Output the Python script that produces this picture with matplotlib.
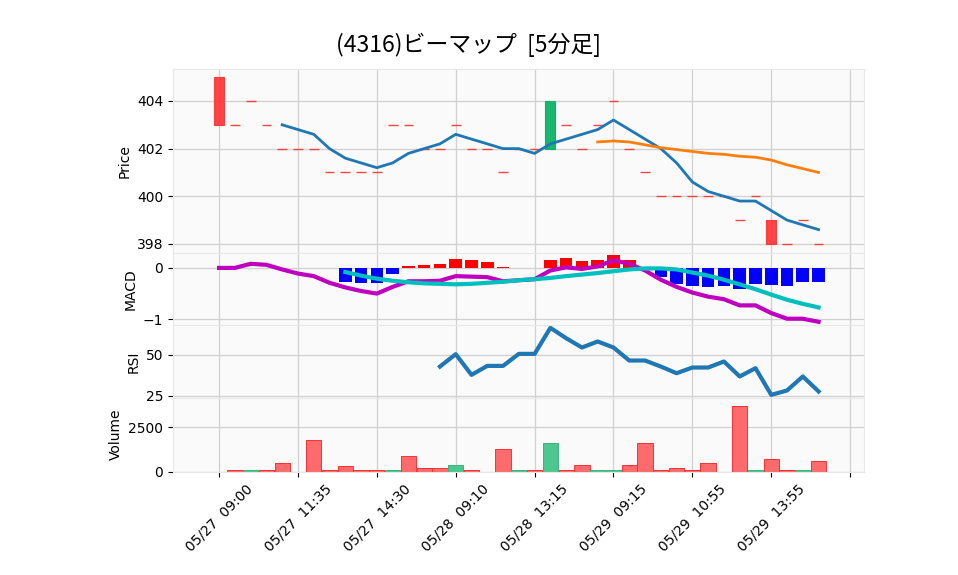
import numpy as np
import matplotlib
matplotlib.use("Agg")
import matplotlib.pyplot as plt
from matplotlib.patches import Rectangle

plt.rcParams['font.family'] = ['DejaVu Sans']

title = "(4316)ビーマップ  [5分足]"
tick_labels = ["05/27  09:00", "05/27  11:35", "05/27  14:30", "05/28  09:10",
               "05/28  13:15", "05/29  09:15", "05/29  10:55", "05/29  13:55", ""]

nan = np.nan
# price bars (5 min)
opens = [405, 403, 404, 403, 402, 402, 402, 401, 401, 401,
         401, 403, 403, 402, 402, 403, 402, 402, 401, 402,
         402, 402, 403, 402, 403, 404, 402, 401, 400, 400,
         400, 400, 400, 399, 400, 399, 398, 399, 398]
closes = [403, 403, 404, 403, 402, 402, 402, 401, 401, 401,
          401, 403, 403, 402, 402, 403, 402, 402, 401, 402,
          402, 404, 403, 402, 403, 404, 402, 401, 400, 400,
          400, 400, 400, 399, 400, 398, 398, 399, 398]
volume = [0, 100, 100, 100, 500, 0, 1800, 100, 300, 100,
          100, 100, 900, 200, 200, 400, 100, 0, 1300, 100,
          100, 1600, 100, 400, 100, 100, 400, 1600, 100, 200,
          100, 500, 0, 3700, 100, 700, 100, 100, 600]

ma5 = [nan, nan, nan, nan, 403.0, 402.8, 402.6, 402.0, 401.6, 401.4,
       401.2, 401.4, 401.8, 402.0, 402.2, 402.6, 402.4, 402.2, 402.0, 402.0,
       401.8, 402.2, 402.4, 402.6, 402.8, 403.2, 402.8, 402.4, 402.0, 401.4,
       400.6, 400.2, 400.0, 399.8, 399.8, 399.4, 399.0, 398.8, 398.6]
ma25 = [nan] * 24 + [402.28, 402.32, 402.28, 402.16, 402.04, 401.96, 401.88,
                     401.80, 401.76, 401.68, 401.64, 401.52, 401.32, 401.16, 401.0]

macd = [0.00, 0.00, 0.08, 0.06, -0.03, -0.11, -0.16, -0.29, -0.38, -0.45,
        -0.50, -0.37, -0.26, -0.26, -0.25, -0.16, -0.17, -0.18, -0.26, -0.24,
        -0.22, -0.05, 0.01, -0.02, 0.03, 0.15, 0.08, -0.05, -0.23, -0.37,
        -0.48, -0.56, -0.61, -0.73, -0.73, -0.88, -0.99, -0.99, -1.05]
signal = [nan] * 8 + [-0.08, -0.15, -0.21, -0.25, -0.28, -0.30, -0.31, -0.32,
                      -0.31, -0.29, -0.27, -0.24, -0.22, -0.195, -0.16, -0.13,
                      -0.10, -0.065, -0.03, -0.01, -0.01, -0.03, -0.09, -0.15,
                      -0.23, -0.32, -0.415, -0.52, -0.62, -0.70, -0.77]
hist = [nan] * 8 + [-0.27, -0.29, -0.29, -0.12, 0.03, 0.06, 0.08, 0.175,
                    0.155, 0.115, 0.025, 0.0, 0.0, 0.155, 0.195, 0.135,
                    0.155, 0.25, 0.155, 0.0, -0.18, -0.31, -0.36, -0.38,
                    -0.36, -0.41, -0.31, -0.34, -0.36, -0.27, -0.27]

rsi = [nan] * 14 + [42.8, 50.4, 37.7, 43.2, 43.2, 50.6, 50.6, 66.6, 60.2, 54.5,
                    58.2, 54.5, 46.5, 46.5, 42.8, 38.7, 42.2, 42.2, 45.9, 36.7,
                    41.8, 25.4, 28.1, 36.7, 27.5]

up_c, down_c = '#00b060', '#fe3032'
vol_up, vol_down = '#4dc790', '#fd6b6c'
grid_c = '#d0d0d0'
bg = '#fafafa'

x = np.arange(len(closes))

fig = plt.figure(figsize=(9.58, 5.75), dpi=100)
gs = fig.add_gridspec(4, 1, height_ratios=[183.5, 72.5, 73, 74], hspace=0,
                      left=0.1806, right=0.9019, top=0.8795, bottom=0.1797)
ax_p = fig.add_subplot(gs[0])
ax_m = fig.add_subplot(gs[1], sharex=ax_p)
ax_r = fig.add_subplot(gs[2], sharex=ax_p)
ax_v = fig.add_subplot(gs[3], sharex=ax_p)
axes = [ax_p, ax_m, ax_r, ax_v]

for ax in axes:
    ax.set_facecolor(bg)
    ax.grid(True, color=grid_c, linewidth=0.9)
    ax.set_axisbelow(True)
    for s in ax.spines.values():
        s.set_color('#e8e8e8')
    ax.tick_params(axis='both', labelsize=10, length=3.5, color='black')

# candles
w = 0.62
for i in x:
    o, c = opens[i], closes[i]
    col = up_c if c > o else down_c
    if o == c:
        ax_p.hlines(c, i - w / 2, i + w / 2, color=col, linewidth=1.0, alpha=0.9)
    else:
        ax_p.add_patch(Rectangle((i - w / 2, min(o, c)), w, abs(c - o),
                                 facecolor=col, edgecolor=col, linewidth=0.8,
                                 alpha=0.9, zorder=2))
ax_p.plot(x, ma5, color='#1f77b4', linewidth=2.0, zorder=3)
ax_p.plot(x, ma25, color='#ff7f0e', linewidth=2.0, zorder=3)
ax_p.set_ylim(397.64, 405.33)
ax_p.set_yticks([398, 400, 402, 404])
ax_p.set_ylabel("Price", fontsize=10)

# MACD
hcols = ['red' if h > 0 else 'blue' for h in np.nan_to_num(hist)]
ax_m.bar(x, np.nan_to_num(hist), width=0.8, color=hcols, zorder=2)
ax_m.plot(x, macd, color='#bf00bf', linewidth=3.0, zorder=3)
ax_m.plot(x, signal, color='#00bfbf', linewidth=3.0, zorder=3)
ax_m.set_ylim(-1.11, 0.30)
ax_m.set_yticks([-1, 0])
ax_m.set_yticklabels(["\u22121", "0"])
ax_m.set_ylabel("MACD", fontsize=10)

# RSI
ax_r.plot(x, rsi, color='#1f77b4', linewidth=3.0)
ax_r.set_ylim(23.6, 68.4)
ax_r.set_yticks([25, 50])
ax_r.set_ylabel("RSI", fontsize=10)

# volume
vcols, vedge = [], []
for i in x:
    upv = i > 0 and closes[i] > closes[i - 1]
    vcols.append(vol_up if upv else vol_down)
    vedge.append('#3fb07e' if upv else '#fe3032')
vol = np.array(volume, dtype=float)
vol[vol == 0] = nan
ax_v.bar(x, vol, width=0.97, color=vcols, edgecolor=vedge, linewidth=0.7, zorder=2)
ax_v.set_ylim(0, 4150)
ax_v.set_yticks([0, 2500])
ax_v.set_yticklabels(["0", "2500"])
ax_v.set_ylabel("Volume", fontsize=10)

ax_v.set_xlim(-2.92, 40.88)
ax_v.set_xticks(np.arange(0, 41, 5))
ax_v.set_xticklabels(tick_labels, rotation=45, ha='center', fontsize=10)
for ax in axes[:-1]:
    ax.tick_params(axis='x', labelbottom=False, length=0)

fig.text(0.4886, 0.922, title, ha='center', va='center', fontsize=16.5,
         family=['Noto Sans CJK JP', 'DejaVu Sans'])

fig.savefig("out.png", dpi=100)
